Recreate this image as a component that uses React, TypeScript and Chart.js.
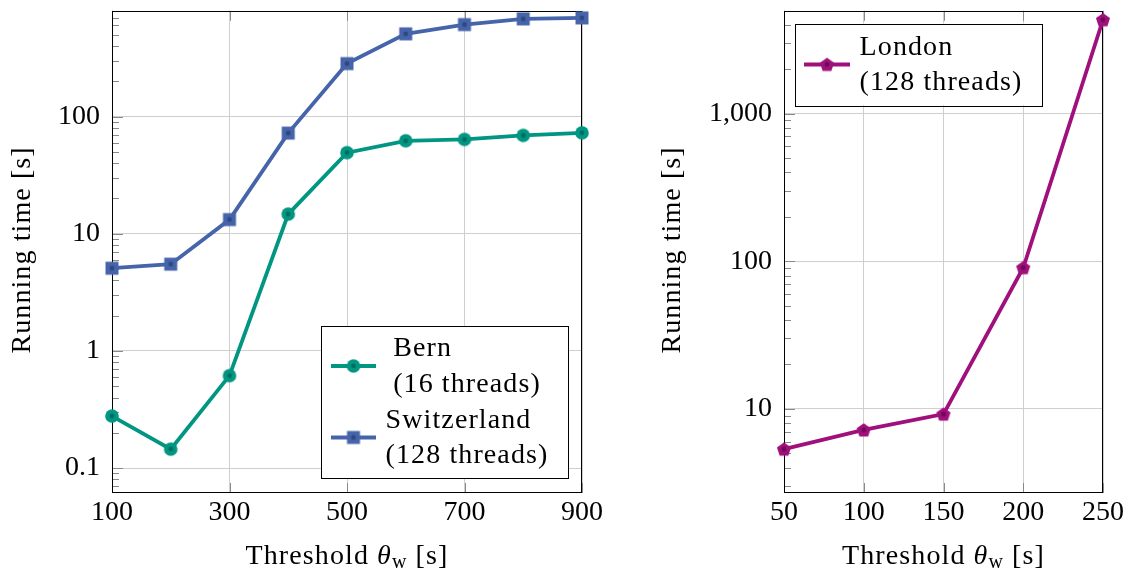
import React, { useEffect, useRef } from 'react';
import { Chart, registerables } from 'chart.js';

Chart.register(...registerables);

const FONT = "'Liberation Serif', 'DejaVu Serif', serif";
const FS = 28;
const SPACING = '1.1px';

// ---- Left chart data ----
const xLeft = [100, 200, 300, 400, 500, 600, 700, 800, 900];
const bernTimes = [0.278, 0.145, 0.615, 14.7, 49.2, 62.1, 63.8, 69.0, 72.6];
const switzerlandTimes = [5.08, 5.5, 13.2, 72.2, 283, 508, 609, 681, 695];
const xLeftTicks = [100, 300, 500, 700, 900];
const yLeftTicks = [0.1, 1, 10, 100];
const yLeftTickLabels = ['0.1', '1', '10', '100'];
const seriesLeft = ['Bern\n(16 threads)', 'Switzerland\n(128 threads)'];

// ---- Right chart data ----
const xRight = [50, 100, 150, 200, 250];
const londonTimes = [5.33, 7.19, 9.2, 90.3, 4320];
const xRightTicks = [50, 100, 150, 200, 250];
const yRightTicks = [10, 100, 1000];
const yRightTickLabels = ['10', '100', '1,000'];
const seriesRight = ['London\n(128 threads)'];

const xTitleParts = ['Threshold ', 'θ', 'w', ' [s]'];
const yTitle = 'Running time [s]';

const GREEN = '#009682';
const BLUE = '#4664AA';
const PURPLE = '#A0107C';

function makeMarker(shape: string, fill: string, dot: string) {
  const c = document.createElement('canvas');
  c.width = 16;
  c.height = 16;
  const g = c.getContext('2d')!;
  g.fillStyle = fill;
  g.beginPath();
  if (shape === 'circle') {
    g.arc(8, 8, 6.8, 0, Math.PI * 2);
  } else if (shape === 'square') {
    g.rect(1.5, 1.5, 13, 13);
  } else {
    for (let k = 0; k < 5; k++) {
      const a = -Math.PI / 2 + (k * 2 * Math.PI) / 5;
      const px = 8 + 7.4 * Math.cos(a);
      const py = 8.6 + 7.4 * Math.sin(a);
      if (k === 0) g.moveTo(px, py);
      else g.lineTo(px, py);
    }
    g.closePath();
  }
  g.fill();
  g.fillStyle = dot;
  g.beginPath();
  g.arc(8, 8, 2.4, 0, Math.PI * 2);
  g.fill();
  return c;
}

const decorPlugin = {
  id: 'decor',
  beforeDatasetsDraw(chart: any, _args: any, opts: any) {
    const { ctx, chartArea: a } = chart;
    const ys = chart.scales.y;
    const xs = chart.scales.x;
    ctx.save();
    ctx.strokeStyle = '#8a8a8a';
    ctx.lineWidth = 1;
    const lo = Math.floor(Math.log10(ys.min));
    const hi = Math.ceil(Math.log10(ys.max));
    ctx.beginPath();
    for (let e = lo; e <= hi; e++) {
      for (let m = 1; m < 10; m++) {
        const v = m * Math.pow(10, e);
        if (v < ys.min || v > ys.max) continue;
        const py = Math.round(ys.getPixelForValue(v)) + 0.5;
        const len = m === 1 ? 11 : 7;
        ctx.moveTo(a.left, py);
        ctx.lineTo(a.left + len, py);
      }
    }
    for (const t of xs.ticks) {
      const px = Math.round(xs.getPixelForValue(t.value)) + 0.5;
      ctx.moveTo(px, a.bottom);
      ctx.lineTo(px, a.bottom - 10);
      ctx.moveTo(px, a.top);
      ctx.lineTo(px, a.top + 10);
    }
    ctx.stroke();
    ctx.strokeStyle = '#000';
    ctx.lineWidth = 1;
    ctx.strokeRect(
      Math.round(a.left) + 0.5,
      Math.round(a.top) + 0.5,
      Math.round(a.right) - Math.round(a.left) - 1,
      Math.round(a.bottom) - Math.round(a.top) - 1
    );
    ctx.restore();
  },
  afterDraw(chart: any, _args: any, opts: any) {
    const { ctx, chartArea: a } = chart;
    ctx.save();
    ctx.fillStyle = '#000';
    (ctx as any).letterSpacing = SPACING;
    // y title
    ctx.font = `${FS}px ${FONT}`;
    ctx.textAlign = 'center';
    ctx.textBaseline = 'alphabetic';
    ctx.save();
    ctx.translate(opts.yTitleX, (a.top + a.bottom) / 2 - 2);
    ctx.rotate(-Math.PI / 2);
    ctx.fillText(yTitle, 0, 0);
    ctx.restore();
    // x title with subscript
    ctx.textAlign = 'left';
    const fonts = [
      `${FS}px ${FONT}`,
      `italic ${FS}px ${FONT}`,
      `${Math.round(FS * 0.72)}px ${FONT}`,
      `${FS}px ${FONT}`,
    ];
    const shifts = [0, 0, 4, 0];
    const widths = xTitleParts.map((p, i) => {
      ctx.font = fonts[i];
      return ctx.measureText(p).width;
    });
    const total = widths.reduce((s, w) => s + w, 0);
    let cx = (a.left + a.right) / 2 - total / 2;
    xTitleParts.forEach((p, i) => {
      ctx.font = fonts[i];
      ctx.fillText(p, cx, opts.xTitleY + shifts[i]);
      cx += widths[i];
    });
    // legend
    const lg = opts.legend;
    const [x1, y1, x2, y2] = lg.box;
    ctx.fillStyle = '#fff';
    ctx.fillRect(x1, y1, x2 - x1, y2 - y1);
    ctx.strokeStyle = '#000';
    ctx.lineWidth = 1;
    ctx.strokeRect(Math.round(x1) + 0.5, Math.round(y1) + 0.5, Math.round(x2 - x1), Math.round(y2 - y1));
    chart.data.datasets.forEach((ds: any, i: number) => {
      const e = lg.entries[i];
      ctx.strokeStyle = ds.borderColor;
      ctx.lineWidth = ds.borderWidth;
      ctx.beginPath();
      ctx.moveTo(lg.lineX1, e.sampleY);
      ctx.lineTo(lg.lineX2, e.sampleY);
      ctx.stroke();
      const img = ds.pointStyle;
      ctx.drawImage(img, (lg.lineX1 + lg.lineX2) / 2 - img.width / 2, e.sampleY - img.height / 2);
      ctx.fillStyle = '#000';
      ctx.font = `${FS}px ${FONT}`;
      const lines = String(ds.label).split('\n');
      const w = Math.max(...lines.map((l: string) => ctx.measureText(l).width));
      const left = lg.textCenter - w / 2;
      lines.forEach((l: string, j: number) => ctx.fillText(l, left, e.baselines[j]));
    });
    ctx.restore();
  },
};

function buildConfig(opts: any) {
  return {
    type: 'line',
    data: { datasets: opts.datasets },
    plugins: [decorPlugin],
    options: {
      responsive: false,
      animation: false,
      events: [],
      devicePixelRatio: 1,
      layout: { padding: { left: 0, top: 8, right: opts.padRight, bottom: 0 } },
      elements: { line: { tension: 0 } },
      plugins: {
        legend: { display: false },
        tooltip: { enabled: false },
        decor: opts.decor,
      },
      scales: {
        x: {
          type: 'linear',
          min: opts.xMin,
          max: opts.xMax,
          bounds: 'data',
          afterBuildTicks: (s: any) => {
            s.ticks = opts.xTicks.map((v: number) => ({ value: v }));
          },
          afterFit: (s: any) => {
            s.height = 79;
            s.paddingLeft = 0;
            s.paddingRight = 0;
          },
          ticks: {
            autoSkip: false,
            maxRotation: 0,
            padding: 3,
            color: '#000',
            font: { family: FONT, size: FS },
            callback: (v: any) => String(v),
          },
          grid: { color: '#cfcfcf', lineWidth: 1, drawTicks: false },
          border: { display: false },
        },
        y: {
          type: 'logarithmic',
          min: opts.yMin,
          max: opts.yMax,
          bounds: 'data',
          afterBuildTicks: (s: any) => {
            s.ticks = opts.yTicks.map((v: number) => ({ value: v }));
          },
          afterFit: (s: any) => {
            s.width = opts.yWidth;
            s.paddingTop = 0;
            s.paddingBottom = 0;
          },
          ticks: {
            autoSkip: false,
            padding: 12,
            color: '#000',
            font: { family: FONT, size: FS },
            callback: (_v: any, i: number) => opts.yLabels[i],
          },
          grid: { color: '#cfcfcf', lineWidth: 1, drawTicks: false },
          border: { display: false },
        },
      },
    },
  };
}

export default function App() {
  const leftRef = useRef<HTMLCanvasElement>(null);
  const rightRef = useRef<HTMLCanvasElement>(null);

  useEffect(() => {
    const circle = makeMarker('circle', GREEN, '#006e5f');
    const square = makeMarker('square', BLUE, '#2e4882');
    const penta = makeMarker('pentagon', PURPLE, '#6e0a55');

    const lineDs = (label: string, xs: number[], ys: number[], color: string, marker: any) => ({
      label,
      data: xs.map((x, i) => ({ x, y: ys[i] })),
      borderColor: color,
      backgroundColor: color,
      borderWidth: 3.8,
      pointStyle: marker,
      pointRadius: 7,
      clip: false,
    });

    const left = new Chart(
      leftRef.current!,
      buildConfig({
        datasets: [
          lineDs(seriesLeft[0], xLeft, bernTimes, GREEN, circle),
          lineDs(seriesLeft[1], xLeft, switzerlandTimes, BLUE, square),
        ],
        padRight: 28,
        xMin: 100,
        xMax: 900,
        xTicks: xLeftTicks,
        yMin: 0.0613,
        yMax: 798.7,
        yTicks: yLeftTicks,
        yLabels: yLeftTickLabels,
        yWidth: 112,
        decor: {
          yTitleX: 29.5,
          xTitleY: 564,
          legend: {
            box: [321, 326, 568, 478],
            lineX1: 331,
            lineX2: 376,
            textCenter: 467,
            entries: [
              { sampleY: 366, baselines: [356, 391.5] },
              { sampleY: 437.5, baselines: [427.5, 463] },
            ],
          },
        },
      }) as any
    );

    const right = new Chart(
      rightRef.current!,
      buildConfig({
        datasets: [lineDs(seriesRight[0], xRight, londonTimes, PURPLE, penta)],
        padRight: 25,
        xMin: 50,
        xMax: 250,
        xTicks: xRightTicks,
        yMin: 2.69,
        yMax: 4969,
        yTicks: yRightTicks,
        yLabels: yRightTickLabels,
        yWidth: 174,
        decor: {
          yTitleX: 70,
          xTitleY: 564,
          legend: {
            box: [184.5, 23.5, 431, 105],
            lineX1: 194,
            lineX2: 240,
            textCenter: 331,
            entries: [{ sampleY: 64.5, baselines: [54.5, 90] }],
          },
        },
      }) as any
    );

    return () => {
      left.destroy();
      right.destroy();
    };
  }, []);

  return (
    <div style={{ position: 'absolute', left: 0, top: 0, width: 1128, height: 572, background: '#fff' }}>
      <canvas
        ref={leftRef}
        width={610}
        height={572}
        style={{ position: 'absolute', left: 0, top: 0, width: 610, height: 572 }}
      />
      <canvas
        ref={rightRef}
        width={518}
        height={572}
        style={{ position: 'absolute', left: 610, top: 0, width: 518, height: 572 }}
      />
    </div>
  );
}
